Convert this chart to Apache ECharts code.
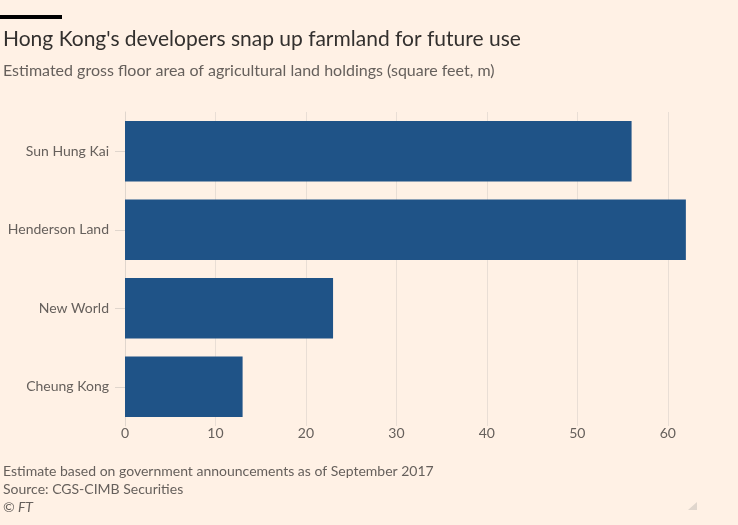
<!DOCTYPE html>
<html>
<head>
<meta charset="utf-8">
<script src="https://cdn.jsdelivr.net/npm/echarts@6/dist/echarts.min.js"></script>
<style>
  html, body { margin: 0; padding: 0; background: #fff1e5; }
  #main { width: 738px; height: 525px; }
</style>
</head>
<body>
<div id="main"></div>
<script>
var companies = ['Sun Hung Kai', 'Henderson Land', 'New World', 'Cheung Kong'];
var floorArea = [56, 62, 23, 13];
var xTicks = [0, 10, 20, 30, 40, 50, 60];

var font = 'Lato, "Noto Sans", sans-serif';
var myChart = echarts.init(document.getElementById('main'));

var option = {
  backgroundColor: '#fff1e5',
  textStyle: { fontFamily: font },
  graphic: [
    { type: 'rect', shape: { x: 0, y: 15, width: 62, height: 4 }, style: { fill: '#000' } },
    { type: 'text', left: 3, top: 29, style: { text: "Hong Kong's developers snap up farmland for future use", font: '21px ' + font, fill: '#33302e' } },
    { type: 'text', left: 3, top: 63, style: { text: 'Estimated gross floor area of agricultural land holdings (square feet, m)', font: '16px ' + font, fill: '#66605c' } },
    { type: 'text', left: 3, top: 464, style: { text: 'Estimate based on government announcements as of September 2017', font: '14px ' + font, fill: '#66605c' } },
    { type: 'text', left: 3, top: 482, style: { text: 'Source: CGS-CIMB Securities', font: '14px ' + font, fill: '#66605c' } },
    { type: 'text', left: 3, top: 500, style: { text: '\u00a9 FT', font: 'italic 14px ' + font, fill: '#66605c' } },
    { type: 'polygon', shape: { points: [[688, 510], [697, 510], [697, 502]] }, style: { fill: '#e0d6cd' } }
  ],
  grid: { left: 125, right: 25, top: 112, bottom: 99, containLabel: false },
  xAxis: {
    type: 'value',
    min: xTicks[0],
    max: 65,
    interval: 10,
    axisLine: { show: false },
    axisTick: { show: false },
    axisLabel: { color: '#66605c', fontSize: 14, margin: 0, showMaxLabel: false },
    splitLine: { show: true, showMaxLine: false, lineStyle: { color: '#e9ded5' } }
  },
  yAxis: {
    type: 'category',
    inverse: true,
    data: companies,
    axisLine: { show: true, lineStyle: { color: '#e0d6cd' } },
    axisTick: { show: true, length: 10, alignWithLabel: true, lineStyle: { color: '#e0d6cd' } },
    axisLabel: { color: '#66605c', fontSize: 14, margin: 16 }
  },
  series: [{
    type: 'bar',
    data: floorArea,
    barCategoryGap: '23%',
    itemStyle: { color: '#1f5387' },
    silent: true
  }],
  animation: false
};

myChart.setOption(option);
</script>
</body>
</html>
